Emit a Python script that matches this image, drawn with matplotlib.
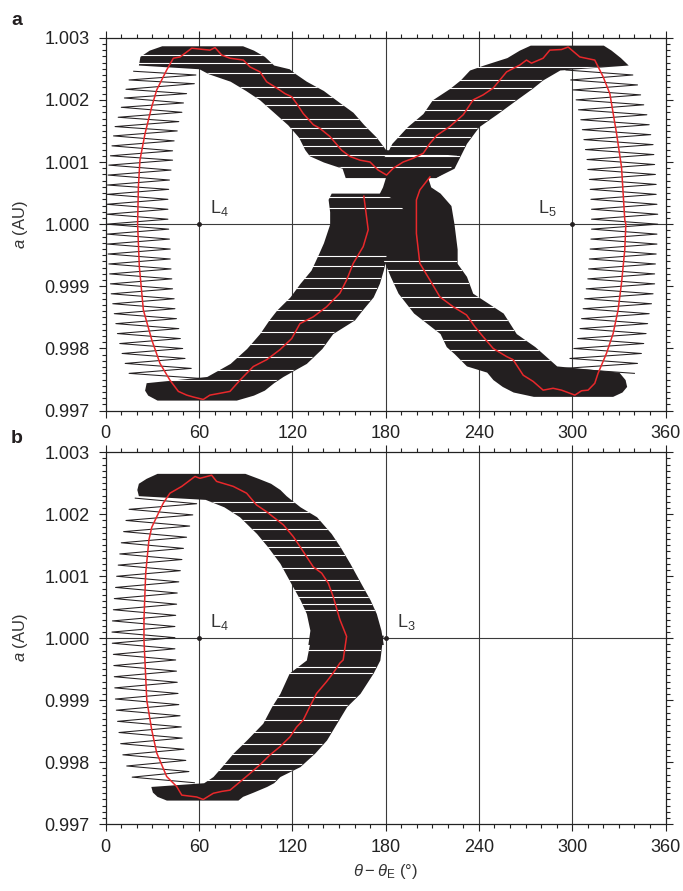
import numpy as np
import matplotlib
matplotlib.use('Agg')
import matplotlib.pyplot as plt
from matplotlib.ticker import MultipleLocator, FormatStrFormatter

plt.rcParams['font.family'] = ['Liberation Sans', 'DejaVu Sans']
plt.rcParams['mathtext.fontset'] = 'custom'
plt.rcParams['mathtext.rm'] = 'Liberation Sans'
plt.rcParams['mathtext.it'] = 'Liberation Sans:italic'
plt.rcParams['mathtext.bf'] = 'Liberation Sans:bold'

INK = '#231f20'
RED = '#e8282b'

# ---------------- panel a ----------------
# dense parts of the libration track: a levels with left / right edge (deg)
a_ul = [1.00075, 1.00090, 1.00100, 1.00110, 1.00120, 1.00140, 1.00160, 1.00180, 1.00200,
        1.00215, 1.00230, 1.00242, 1.00250, 1.00256, 1.00270, 1.00280, 1.00287]
lo_ul = [154, 152, 140, 131, 128, 124, 117, 108, 99, 90, 80, 66, 60, 21, 22, 28, 36]
hi_ul = [212, 222, 225, 226, 180, 174, 166, 159, 148, 140, 129, 122, 118, 108, 102, 95, 88]
gap_ul = [1.00272, 1.00259, 1.00243, 1.00221, 1.00205, 1.00192, 1.00170, 1.00154, 1.00138,
          1.00125, 1.00111, 1.00092]

a_ur = [1.00075, 1.00090, 1.00110, 1.00130, 1.00157, 1.00178, 1.00200, 1.00218, 1.00232,
        1.00248, 1.00256, 1.00268, 1.00280, 1.00288]
lo_ur = [176, 172, 180, 184, 194, 204, 210, 221, 228, 234, 243, 258, 266, 273]
hi_ur = [212, 224, 228, 232, 240, 252, 264, 274, 281, 292, 336, 331, 325, 320]
gap_ur = [1.00253, 1.00232, 1.00219, 1.00200, 1.00184, 1.00168, 1.00154, 1.00141, 1.00125, 1.00109]

a_ll = [0.99717, 0.99725, 0.99733, 0.99745, 0.99755, 0.99776, 0.99800, 0.99824, 0.99846,
        0.99862, 0.99883, 0.99905, 0.99926, 0.99953, 0.99970, 1.00000, 1.00020, 1.00040, 1.00050]
lo_ll = [33, 27, 25, 26, 65, 80, 90.6, 99, 105, 110, 118.5, 125, 132, 137, 140, 144, 144, 143, 145]
hi_ll = [84, 95, 102, 108, 114, 129, 139, 146, 160, 165, 172, 176, 178.5, 181, 190, 195, 193, 185, 178]
gap_ll = [0.99749, 0.99765, 0.99787, 0.99808, 0.99827, 0.99846, 0.99862, 0.99878, 0.99897,
          0.99913, 0.99932, 0.99948, 1.00026, 1.00044]

a_lr = [0.99723, 0.99730, 0.99739, 0.99750, 0.99762, 0.99772, 0.99792, 0.99803, 0.99824,
        0.99857, 0.99889, 0.99916, 0.99937, 0.99960, 1.00000, 1.00030, 1.00050, 1.00060, 1.00076]
lo_lr = [275, 262, 255, 249, 245, 232, 224, 219, 215, 198, 188, 183, 179.5, 176, 170, 172, 176, 178, 180]
hi_lr = [326, 332, 335, 334, 330, 290, 281, 276, 264, 255.6, 236, 232, 226, 226, 224, 222, 215, 209, 207]
gap_lr = [0.99940, 0.99926, 0.99905, 0.99883, 0.99867, 0.99846, 0.99830, 0.99814, 0.99798, 0.99782]

# sparse oscillations (turning points) on the two sides
zl_a = [1.00246, 1.00240, 1.00232, 1.00226, 1.00217, 1.00210, 1.00203, 1.00195, 1.00188, 1.00180,
        1.00172, 1.00165, 1.00157, 1.00150, 1.00142, 1.00134, 1.00126, 1.00118, 1.00110, 1.00103,
        1.00095, 1.00087, 1.00079, 1.00071, 1.00063, 1.00056, 1.00048, 1.00040, 1.00032, 1.00024,
        1.00016, 1.00008, 1.00000, 0.99992, 0.99984, 0.99976, 0.99968, 0.99960, 0.99952, 0.99944,
        0.99936, 0.99928, 0.99920, 0.99912, 0.99904, 0.99896, 0.99888, 0.99880, 0.99872, 0.99864,
        0.99856, 0.99848, 0.99840, 0.99832, 0.99824, 0.99816, 0.99808, 0.99800, 0.99792, 0.99784,
        0.99776, 0.99768, 0.99760, 0.99752]
zl_th = [18, 58, 15, 57, 13, 52, 12, 50, 10, 49,
         8, 47, 6, 46, 5, 44, 4, 43, 3, 43,
         2, 42, 1.5, 41, 1, 40.5, 0.8, 40, 0.5, 40,
         0.5, 40, 0.5, 40.5, 0.8, 41, 1, 41.5, 1.5, 41.5,
         2, 42, 2.5, 42.5, 3, 43, 3.5, 44, 4.5, 44.5,
         5.5, 45.5, 6.5, 47, 7.5, 48, 9, 49.5, 10.5, 51,
         12.5, 55, 15, 60]

zr_a = [1.00248, 1.00240, 1.00232, 1.00224, 1.00216, 1.00208, 1.00200, 1.00192, 1.00184, 1.00176,
        1.00168, 1.00160, 1.00152, 1.00144, 1.00136, 1.00128, 1.00120, 1.00112, 1.00104, 1.00096,
        1.00088, 1.00080, 1.00072, 1.00064, 1.00056, 1.00048, 1.00040, 1.00032, 1.00024, 1.00016,
        1.00008, 1.00000, 0.99992, 0.99984, 0.99976, 0.99968, 0.99960, 0.99952, 0.99944, 0.99936,
        0.99928, 0.99920, 0.99912, 0.99904, 0.99896, 0.99888, 0.99880, 0.99872, 0.99864, 0.99856,
        0.99848, 0.99840, 0.99832, 0.99824, 0.99816, 0.99808, 0.99800, 0.99792, 0.99784, 0.99776,
        0.99768, 0.99760]
zr_th = [296, 339, 299, 342, 300.5, 344, 302.5, 346, 304, 348,
         305.5, 349.5, 306.5, 350.5, 307.5, 352, 308.5, 352.5, 309.5, 353,
         310, 353.5, 311, 354, 311.5, 354, 312, 354.5, 312.4, 355,
         312.4, 355, 312.4, 354.5, 312, 354.5, 311.5, 354, 311, 353.5,
         310.5, 353, 310, 353, 309, 352, 308, 351, 307, 349.5,
         306, 348.5, 305, 347.5, 303.5, 346, 301, 344.5, 298.5, 342,
         295, 340]

# guiding centre (red)
ra_th = [166, 168.8, 165.6, 159.2, 154.9, 150.6, 142, 133.5, 124.9, 119.6, 112, 103.5, 94.9, 86.3,
         79.9, 73.5, 67, 62.7, 56.3, 52.1, 46.7, 41.3, 34.9, 29.6, 24.2, 21.6, 20.5, 21, 22, 25.3,
         29.6, 32.8, 39.2, 43.5, 47.8, 55.3, 67, 70.3, 74.6, 79.9, 88.5, 92.8, 99.2, 103.5, 110,
         115.3, 119.6, 122.8, 127, 133.5, 137.8, 144.2, 151.7, 157, 163.5, 170, 175.2, 180.6, 184.9,
         191.3, 197.7, 204.2, 208.5, 213, 221.3, 229.9, 236.3, 242.7, 249.2, 257.8, 266.3, 270.6,
         273.8, 281.3, 285.6, 293.1, 297.4, 304.9, 314.5, 319.9, 324.2, 328.5, 331.7, 333.8, 334.5,
         333.8, 331.7, 329.5, 326.3, 322, 316.6, 314.5, 310.2, 306, 301.7, 298.5, 293.1, 287.7,
         281.3, 274.9, 268.5, 262, 257.8, 249.2, 242.7, 237.4, 232, 223.5, 214.9, 208.5, 202,
         199.8, 199.8, 202, 208.5]
ra_a = [1.00045, 0.99991, 0.99964, 0.99937, 0.99910, 0.99889, 0.99867, 0.99851, 0.99840, 0.99816,
        0.99798, 0.99782, 0.99771, 0.99749, 0.99731, 0.99728, 0.99725, 0.99718, 0.99722, 0.99725,
        0.99731, 0.99749, 0.99776, 0.99814, 0.99862, 0.99932, 1.00000, 1.00060, 1.00103, 1.00146,
        1.00189, 1.00216, 1.00248, 1.00267, 1.00269, 1.00283, 1.00280, 1.00284, 1.00272, 1.00267,
        1.00264, 1.00253, 1.00245, 1.00229, 1.00219, 1.00210, 1.00205, 1.00194, 1.00178, 1.00160,
        1.00154, 1.00141, 1.00119, 1.00109, 1.00103, 1.00100, 1.00087, 1.00079, 1.00090, 1.00100,
        1.00106, 1.00114, 1.00130, 1.00143, 1.00157, 1.00176, 1.00200, 1.00208, 1.00219, 1.00245,
        1.00256, 1.00264, 1.00259, 1.00267, 1.00280, 1.00281, 1.00285, 1.00269, 1.00264, 1.00237,
        1.00210, 1.00146, 1.00092, 1.00007, 1.00000, 0.99959, 0.99905, 0.99862, 0.99824, 0.99792,
        0.99760, 0.99744, 0.99733, 0.99732, 0.99725, 0.99728, 0.99733, 0.99736, 0.99733, 0.99747,
        0.99757, 0.99782, 0.99787, 0.99800, 0.99819, 0.99835, 0.99854, 0.99867, 0.99883, 0.99910,
        0.99937, 0.99985, 1.00039, 1.00055, 1.00076]

lag_a = {'L$_4$': (60, 1.0, 67, 1.000176), 'L$_5$': (300, 1.0, 278, 1.000176)}

# ---------------- panel b ----------------
a_ub = [0.99990, 1.00013, 1.00040, 1.00062, 1.00089, 1.00121, 1.00148, 1.00169, 1.00196,
        1.00212, 1.00224, 1.00230, 1.00240, 1.00250, 1.00258, 1.00266]
lo_ub = [130, 131.3, 129, 125, 119, 112, 104, 97, 86, 76, 64, 21, 20, 21, 26, 33]
hi_ub = [178.5, 177, 174, 170, 164, 157, 150.6, 145, 135.6, 125, 119, 116, 112, 106, 98, 89.5]
gap_ub = [1.00220, 1.00204, 1.00191, 1.00177, 1.00159, 1.00148, 1.00134, 1.00113, 1.00094,
          1.00078, 1.00067, 1.00056, 1.00046]

a_lb = [0.99739, 0.99745, 0.99752, 0.99761, 0.99767, 0.99777, 0.99793, 0.99815, 0.99836,
        0.99863, 0.99890, 0.99911, 0.99944, 0.99965, 0.99990, 1.00005]
lo_lb = [39, 33, 30, 29, 63, 69, 74.6, 82, 90.6, 101, 106.7, 112, 118, 129, 131, 132]
hi_lb = [85, 88, 95, 103.5, 108, 112, 124.9, 134.5, 142, 148.5, 155, 163.5, 172, 176.3, 177.5, 178.5]
gap_lb = [0.99981, 0.99954, 0.99944, 0.99906, 0.99892, 0.99868, 0.99849, 0.99830, 0.99814,
          0.99798, 0.99787, 0.99771]

zb_a = [1.00226, 1.00217, 1.00208, 1.00199, 1.00190, 1.00181, 1.00172, 1.00163, 1.00154, 1.00145,
        1.00136, 1.00127, 1.00118, 1.00109, 1.00100, 1.00091, 1.00082, 1.00073, 1.00064, 1.00055,
        1.00046, 1.00037, 1.00028, 1.00019, 1.00010, 1.00001, 0.99992, 0.99983, 0.99974, 0.99965,
        0.99956, 0.99947, 0.99938, 0.99929, 0.99920, 0.99911, 0.99902, 0.99893, 0.99884, 0.99875,
        0.99866, 0.99857, 0.99848, 0.99839, 0.99830, 0.99821, 0.99812, 0.99803, 0.99794, 0.99785,
        0.99776, 0.99767]
zb_th = [19, 58.5, 15, 56, 13, 54, 11.5, 52, 10, 50,
         9, 49, 8, 48, 7, 47, 6.3, 46, 5.5, 45.6,
         4.9, 45, 4.3, 44.5, 4, 44.5, 4.2, 44.5, 4.9, 45,
         5.2, 45.5, 5.5, 46, 5.8, 46.5, 6.2, 47, 6.8, 47.8,
         7.6, 48.6, 8.5, 49.2, 9.6, 50.3, 11, 51.5, 13.5, 53.5,
         17, 57]

rb_th = [24.6, 25.7, 27.8, 29.6, 32.8, 37, 41.3, 48.9, 57.4, 60.6, 68.1, 71.3, 82, 90.6, 97,
         103.5, 114.2, 120.6, 124.9, 133.5, 138.9, 143.1, 146.3, 150.6, 154.9, 152.7, 150.6,
         146.3, 142, 135.6, 131.3, 127, 122.8, 118.5, 112, 105.7, 99.2, 92.8, 85.2, 79.9, 74.6,
         69.2, 62.7, 58.5, 48.9, 45.6, 39.2, 36, 32.8, 29.6, 26.4, 24.6, 24.6]
rb_a = [1.00031, 1.00105, 1.00159, 1.00179, 1.00196, 1.00218, 1.00234, 1.00245, 1.00261, 1.00258,
        1.00263, 1.00253, 1.00245, 1.00234, 1.00215, 1.00204, 1.00183, 1.00164, 1.00148, 1.00115,
        1.00105, 1.00089, 1.00067, 1.00030, 1.00003, 0.99965, 0.99960, 0.99944, 0.99930, 0.99911,
        0.99890, 0.99868, 0.99857, 0.99841, 0.99825, 0.99812, 0.99796, 0.99782, 0.99766, 0.99755,
        0.99753, 0.99750, 0.99740, 0.99744, 0.99747, 0.99761, 0.99777, 0.99796, 0.99815, 0.99852,
        0.99900, 0.99997, 1.00031]

lag_b = {'L$_4$': (60, 1.0, 67, 1.000176), 'L$_3$': (180, 1.0, 187, 1.000176)}

x_ticks = [0, 60, 120, 180, 240, 300, 360]
y_ticks = [0.997, 0.998, 0.999, 1.000, 1.001, 1.002, 1.003]
grid_x = [60, 120, 180, 240, 300]


def draw_panel(ax, bands, zigs, red_th, red_a, lags):
    for gx in grid_x:
        ax.axvline(gx, color='#3a3a3a', lw=0.8, zorder=1)
    ax.axhline(1.0, color='#3a3a3a', lw=0.8, zorder=1)
    for a_, lo, hi, gaps in bands:
        pc = ax.fill_betweenx(a_, lo, hi, color=INK, lw=0, zorder=2)
        # thin white gaps between bundles of oscillations
        gl = ax.hlines(gaps, 0, 360, colors='white', lw=0.8, zorder=2.5)
        gl.set_clip_path(pc.get_paths()[0], ax.transData)
    for za, zt in zigs:
        ax.plot(zt, za, color=INK, lw=0.75, zorder=2)
    ax.plot(red_th, red_a, color=RED, lw=1.1, zorder=3)
    for name, (px, py, tx, ty) in lags.items():
        ax.plot(px, py, 'o', color=INK, ms=2.5, zorder=4)
        ax.text(tx, ty, name, fontsize=13, color='#333333', ha='left', va='baseline', zorder=5)
    ax.set_xlim(0, 360)
    ax.set_ylim(0.997, 1.003)
    ax.set_xticks(x_ticks)
    ax.set_yticks(y_ticks)
    ax.xaxis.set_minor_locator(MultipleLocator(10))
    ax.yaxis.set_minor_locator(MultipleLocator(0.0001))
    ax.yaxis.set_major_formatter(FormatStrFormatter('%.3f'))
    ax.tick_params(which='both', direction='out', top=True, right=True,
                   labelsize=13, width=0.8, colors='#222222')
    ax.tick_params(which='major', length=5, pad=5.5)
    ax.tick_params(which='minor', length=2.7)
    ax.tick_params(axis='y', which='major', pad=6.5)
    for s in ax.spines.values():
        s.set_linewidth(0.9)
        s.set_color('#222222')


fig = plt.figure(figsize=(6.83, 8.91), dpi=100)
ax1 = fig.add_axes([0.1548, 0.5391, 0.8196, 0.4186])
ax2 = fig.add_axes([0.1548, 0.0749, 0.8196, 0.4175])

draw_panel(ax1,
           [(a_ul, lo_ul, hi_ul, gap_ul), (a_ur, lo_ur, hi_ur, gap_ur),
            (a_ll, lo_ll, hi_ll, gap_ll), (a_lr, lo_lr, hi_lr, gap_lr)],
           [(zl_a, zl_th), (zr_a, zr_th)], ra_th, ra_a, lag_a)
draw_panel(ax2,
           [(a_ub, lo_ub, hi_ub, gap_ub), (a_lb, lo_lb, hi_lb, gap_lb)],
           [(zb_a, zb_th)], rb_th, rb_a, lag_b)

fig.text(0.016, 0.972, 'a', fontsize=14, fontweight='bold', color=INK)
fig.text(0.016, 0.503, 'b', fontsize=14, fontweight='bold', color=INK)
fig.text(0.030, 0.748, '$a$ (AU)', fontsize=12, rotation=90, ha='center', va='center', color='#333333')
fig.text(0.030, 0.284, '$a$ (AU)', fontsize=12, rotation=90, ha='center', va='center', color='#333333')
fig.text(0.564, 0.022, r'$\theta - \theta_{\mathrm{E}}$ (°)', fontsize=12, ha='center', va='center',
         color='#333333')

fig.savefig('out.png', dpi=100)
